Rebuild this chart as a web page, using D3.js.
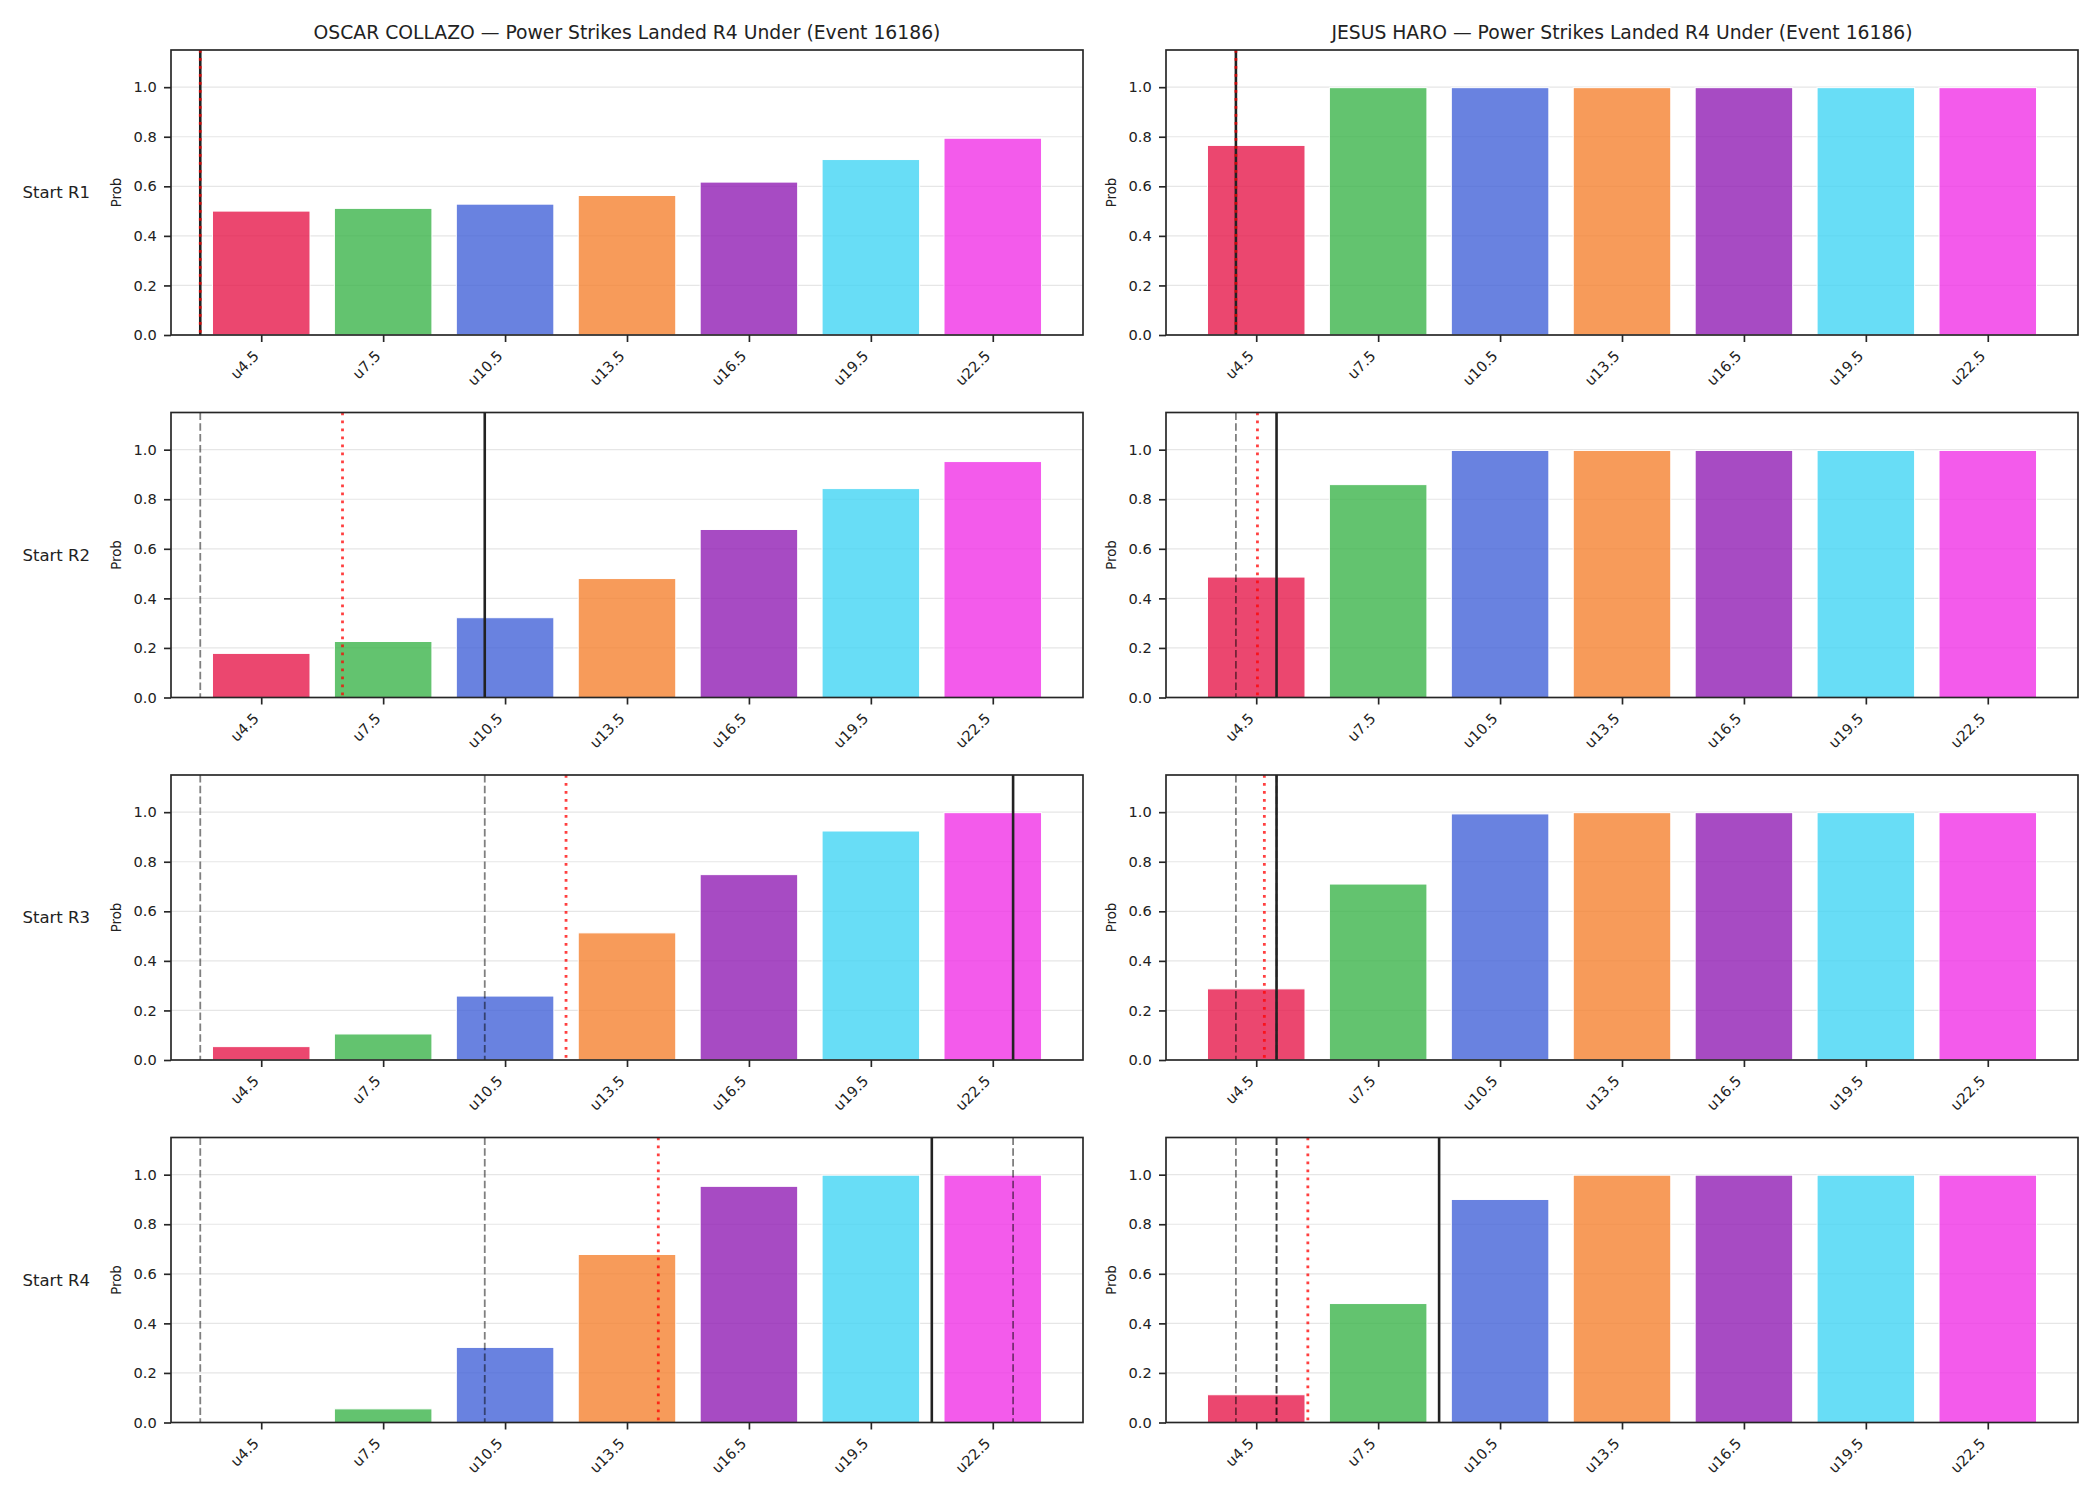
<!DOCTYPE html>
<html>
<head>
<meta charset="utf-8">
<script src="https://cdn.jsdelivr.net/npm/d3@7"></script>
<style>
  html, body { margin: 0; padding: 0; background: #ffffff; }
  text { font-family: "DejaVu Sans", sans-serif; }
</style>
</head>
<body>
<script>
// ---------------- DATA ----------------
const thresholdLabels = ["u4.5", "u7.5", "u10.5", "u13.5", "u16.5", "u19.5", "u22.5"];
const thresholdValues = [4.5, 7.5, 10.5, 13.5, 16.5, 19.5, 22.5];
const barColors = ["#e6194b", "#3cb44b", "#4363d8", "#f58231", "#911eb4", "#42d4f4", "#f032e6"];
const fighters = ["OSCAR COLLAZO", "JESUS HARO"];
const rowLabels = ["Start R1", "Start R2", "Start R3", "Start R4"];
const titleSuffix = " \u2014 Power Strikes Landed R4 Under (Event 16186)";
const yTicks = [0.0, 0.2, 0.4, 0.6, 0.8, 1.0];

// probabilities per start round (rows) per threshold
const collazoProbs = [
  [0.50, 0.511, 0.528, 0.563, 0.617, 0.708, 0.794],
  [0.178, 0.226, 0.322, 0.480, 0.678, 0.843, 0.952],
  [0.054, 0.105, 0.258, 0.513, 0.748, 0.924, 0.998],
  [0.004, 0.055, 0.303, 0.678, 0.953, 0.998, 0.998]
];
const haroProbs = [
  [0.765, 0.998, 0.998, 0.998, 0.998, 0.998, 0.998],
  [0.486, 0.859, 0.997, 0.997, 0.997, 0.997, 0.997],
  [0.287, 0.710, 0.993, 0.998, 0.998, 0.998, 0.998],
  [0.112, 0.480, 0.900, 0.998, 0.998, 0.998, 0.998]
];

// reference lines in strike units (solid black = current, dotted red = projection, dashed grey = earlier rounds)
const collazoCurrent   = [3, 10, 23, 21];
const collazoProjected = [3, 6.5, 12, 14.27];
const collazoPrevious  = [[], [3], [3, 10], [3, 10, 23]];
const haroCurrent      = [4, 5, 5, 9];
const haroProjected    = [4, 4.53, 4.7, 5.77];
const haroPrevious     = [[], [4], [4, 5], [4, 5, 5]];

const panelData = [
  { probs: collazoProbs, current: collazoCurrent, projected: collazoProjected, previous: collazoPrevious },
  { probs: haroProbs, current: haroCurrent, projected: haroProjected, previous: haroPrevious }
];

// ---------------- LAYOUT ----------------
const W = 2100, H = 1500;
const colLeft = [171, 1166];
const rowTop = [50, 412.5, 775, 1137.5];
const pw = 912, ph = 285;
const ink = "#262626";

const svg = d3.select("body").append("svg")
  .attr("width", W).attr("height", H)
  .style("background", "#ffffff");

const x = d3.scaleLinear().domain([-0.74, 6.74]).range([0, pw]);
const y = d3.scaleLinear().domain([0, 1.15]).range([ph, 0]);
const strikeToIndex = d3.scaleLinear().domain([4.5, 22.5]).range([0, 6]);
const barW = 0.8;

for (let c = 0; c < 2; c++) {
  const pd = panelData[c];
  for (let r = 0; r < 4; r++) {
    const g = svg.append("g").attr("transform", `translate(${colLeft[c]},${rowTop[r]})`);

    // grid
    g.selectAll("line.grid").data(yTicks).enter().append("line")
      .attr("class", "grid")
      .attr("x1", 0).attr("x2", pw)
      .attr("y1", d => y(d)).attr("y2", d => y(d))
      .attr("stroke", "#e6e6e6").attr("stroke-width", 1.2);

    // bars
    g.selectAll("rect.bar").data(pd.probs[r]).enter().append("rect")
      .attr("class", "bar")
      .attr("x", (d, i) => x(i - barW / 2))
      .attr("width", x(barW) - x(0))
      .attr("y", d => y(d))
      .attr("height", d => y(0) - y(d))
      .attr("fill", (d, i) => barColors[i])
      .attr("fill-opacity", 0.8)
      .attr("stroke", "#ffffff").attr("stroke-width", 1);

    // reference lines
    const vx = v => x(strikeToIndex(v));
    g.selectAll("line.prev").data(pd.previous[r]).enter().append("line")
      .attr("class", "prev")
      .attr("x1", vx).attr("x2", vx).attr("y1", 0).attr("y2", ph)
      .attr("stroke", "#000000").attr("stroke-opacity", 0.5)
      .attr("stroke-width", 1.8).attr("stroke-dasharray", "7.5,3.3");
    g.append("line")
      .attr("x1", vx(pd.current[r])).attr("x2", vx(pd.current[r]))
      .attr("y1", 0).attr("y2", ph)
      .attr("stroke", "#222222").attr("stroke-width", 2.6);
    g.append("line")
      .attr("x1", vx(pd.projected[r])).attr("x2", vx(pd.projected[r]))
      .attr("y1", 0).attr("y2", ph)
      .attr("stroke", "#ff0000").attr("stroke-opacity", 0.75)
      .attr("stroke-width", 2.8).attr("stroke-dasharray", "2.8,5.2");

    // frame
    g.append("rect").attr("x", 0).attr("y", 0).attr("width", pw).attr("height", ph)
      .attr("fill", "none").attr("stroke", ink).attr("stroke-width", 1.67);

    // y axis
    const ya = g.append("g").call(d3.axisLeft(y).tickValues(yTicks)
      .tickFormat(d3.format(".1f")).tickSize(7).tickPadding(7.3));
    ya.select(".domain").remove();
    ya.selectAll(".tick line").attr("stroke", ink).attr("stroke-width", 1.67);
    ya.selectAll(".tick text").attr("fill", "#222").style("font-size", "14.6px")
      .style("font-family", "'DejaVu Sans', sans-serif");

    // x axis
    const xa = g.append("g").attr("transform", `translate(0,${ph})`)
      .call(d3.axisBottom(x).tickValues(d3.range(thresholdValues.length))
        .tickFormat(i => thresholdLabels[i]).tickSize(7));
    xa.select(".domain").remove();
    xa.selectAll(".tick line").attr("stroke", ink).attr("stroke-width", 1.67);
    xa.selectAll(".tick text")
      .attr("fill", "#222").style("font-size", "14.6px")
      .style("font-family", "'DejaVu Sans', sans-serif")
      .attr("x", 0).attr("y", 0).attr("dy", null)
      .attr("text-anchor", "end")
      .attr("transform", "translate(-2,22) rotate(-45)");

    // y label
    g.append("text")
      .attr("transform", `translate(${-54.7},${ph / 2}) rotate(-90)`)
      .attr("text-anchor", "middle").attr("dominant-baseline", "central")
      .attr("fill", "#222").style("font-size", "13.3px")
      .text("Prob");

    // row label
    if (c === 0) {
      g.append("text")
        .attr("x", 90 - colLeft[0]).attr("y", ph / 2)
        .attr("text-anchor", "end").attr("dominant-baseline", "central")
        .attr("fill", "#222").style("font-size", "16.5px")
        .text(rowLabels[r]);
    }

    // title
    if (r === 0) {
      g.append("text")
        .attr("x", pw / 2).attr("y", -11.5)
        .attr("text-anchor", "middle")
        .attr("fill", "#222").style("font-size", "18.75px")
        .text(fighters[c] + titleSuffix);
    }
  }
}
</script>
</body>
</html>
